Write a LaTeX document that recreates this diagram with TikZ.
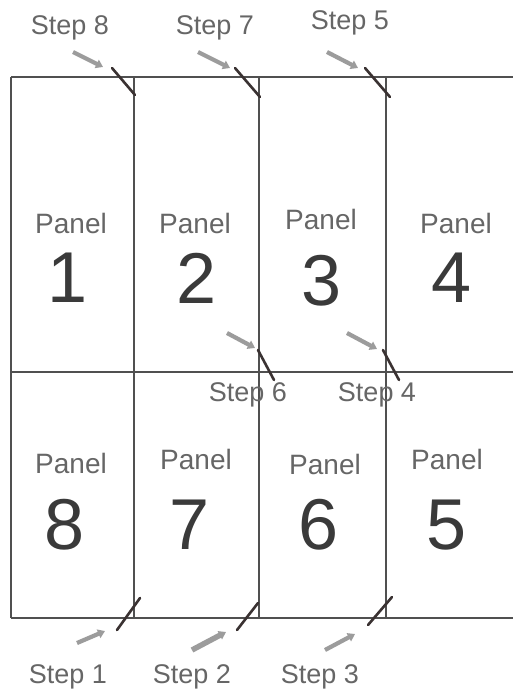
\documentclass[tikz,border=0pt]{standalone}
\usepackage{fontspec}
\setmainfont{Liberation Sans}
\usetikzlibrary{arrows.meta}
\definecolor{framec}{HTML}{505050}
\definecolor{textc}{HTML}{666666}
\definecolor{digitc}{HTML}{3A3A3A}
\definecolor{arrowc}{HTML}{9C9C9C}
\definecolor{foldc}{HTML}{3A3232}
\begin{document}
\begin{tikzpicture}[x=1pt,y=-1pt,
  frame/.style={draw=framec, line width=1.8pt},
  foldmark/.style={draw=foldc, line width=2.6pt, line cap=round},
  steparrow/.style={draw=arrowc, line width=4.2pt, -{Triangle[length=7pt,width=9pt]}},
  bigarrow/.style={steparrow, line width=5.5pt},
  steplabel/.style={text=textc, font=\fontsize{27}{27}\selectfont, inner sep=0pt},
  paneltxt/.style={text=textc, font=\fontsize{28}{28}\selectfont, inner sep=0pt},
  digit/.style={text=digitc, font=\fontsize{72}{72}\selectfont, inner sep=0pt}]
\useasboundingbox (0,0) rectangle (513,694);
\fill[white] (0,0) rectangle (513,694);
% frame
\draw[frame] (11,77) -- (513,77);
\draw[frame] (11,618) -- (513,618);
\draw[frame] (11,372) -- (513,372);
\draw[frame] (11,77) -- (11,618);
\draw[frame] (134,77) -- (134,618);
\draw[frame] (259,77) -- (259,618);
\draw[frame] (386,77) -- (386,618);
% panel labels
\node[paneltxt] (p1) at (71,223) {Panel};
\node[digit] (d1) at (68,278) {1};
\node[paneltxt] (p2) at (195,223) {Panel};
\node[digit] (d2) at (197,278) {2};
\node[paneltxt] (p3) at (321,219) {Panel};
\node[digit] (d3) at (322,281) {3};
\node[paneltxt] (p4) at (456,223) {Panel};
\node[digit] (d4) at (452,278) {4};
\node[paneltxt] (p8) at (71,463) {Panel};
\node[digit] (d8) at (65,525) {8};
\node[paneltxt] (p7) at (196,459) {Panel};
\node[digit] (d7) at (190,525) {7};
\node[paneltxt] (p6) at (325,464) {Panel};
\node[digit] (d6) at (319,525) {6};
\node[paneltxt] (p5) at (447,459) {Panel};
\node[digit] (d5) at (447,525) {5};
% step labels
\node[steplabel] (s8) at (70,28) {Step 8};
\node[steplabel] (s7) at (215,28) {Step 7};
\node[steplabel] (s5) at (350,23) {Step 5};
\node[steplabel] (s6) at (248,395) {Step 6};
\node[steplabel] (s4) at (377,395) {Step 4};
\node[steplabel] (s1) at (68,677) {Step 1};
\node[steplabel] (s2) at (192,677) {Step 2};
\node[steplabel] (s3) at (320,677) {Step 3};
% fold marks
\coordinate (f8a) at (112,68);  \coordinate (f8b) at (135,95);
\coordinate (f7a) at (235,68);  \coordinate (f7b) at (260,97);
\coordinate (f5a) at (365,68);  \coordinate (f5b) at (390,97);
\coordinate (f6a) at (258,350); \coordinate (f6b) at (274,380);
\coordinate (f4a) at (383,350); \coordinate (f4b) at (399,380);
\coordinate (f1a) at (117,630); \coordinate (f1b) at (140,598);
\coordinate (f2a) at (237,630); \coordinate (f2b) at (258,603);
\coordinate (f3a) at (368,625); \coordinate (f3b) at (392,597);
\foreach \f in {8,7,5,6,4,1,2,3} {\draw[foldmark] (f\f a) -- (f\f b);}
% step arrows
\coordinate (a8s) at (73,52);   \coordinate (a8e) at (103,67);
\coordinate (a7s) at (198,52);  \coordinate (a7e) at (230,68);
\coordinate (a5s) at (327,52);  \coordinate (a5e) at (358,68);
\coordinate (a6s) at (227,333); \coordinate (a6e) at (255,348);
\coordinate (a4s) at (347,333); \coordinate (a4e) at (377,349);
\coordinate (a1s) at (77,643);  \coordinate (a1e) at (105,631);
\coordinate (a2s) at (192,650); \coordinate (a2e) at (226,632);
\coordinate (a3s) at (325,650); \coordinate (a3e) at (355,634);
\foreach \a in {8,7,5,6,4,1,3} {\draw[steparrow] (a\a s) -- (a\a e);}
\draw[bigarrow] (a2s) -- (a2e);
\end{tikzpicture}
\end{document}
